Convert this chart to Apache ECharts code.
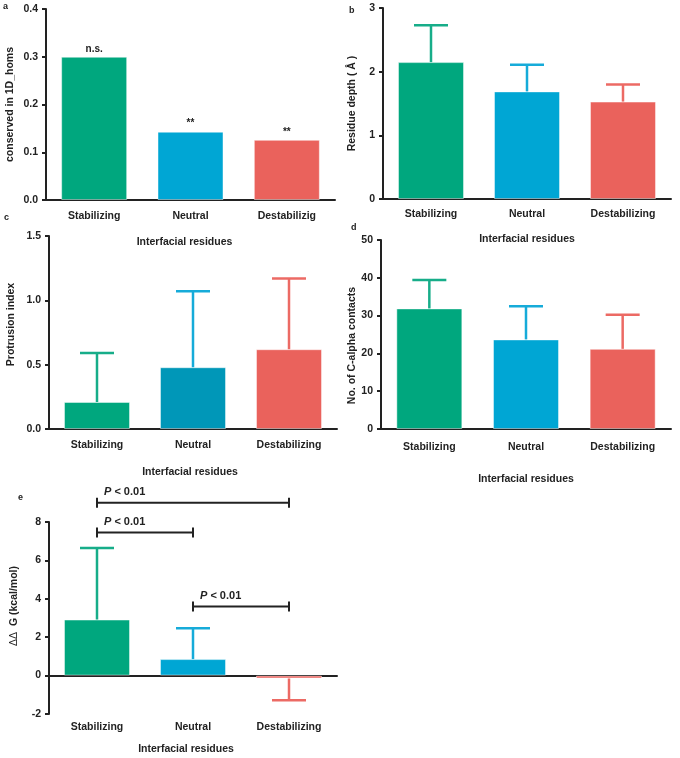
<!DOCTYPE html>
<html><head><meta charset="utf-8">
<script src="https://cdn.jsdelivr.net/npm/echarts@6/dist/echarts.min.js"></script>
<style>html,body{margin:0;padding:0;background:#fff}#c{width:680px;height:758px}</style>
</head><body><div id="c"></div>
<script>
// ---- data ----
const catsA = ['Stabilizing', 'Neutral', 'Destabilizig'];
const cats = ['Stabilizing', 'Neutral', 'Destabilizing'];
const conservedA = [0.300, 0.143, 0.126];
const annotA = ['n.s.', '**', '**'];
const depthB = [2.15, 1.69, 1.53];
const depthSdB = [0.58, 0.42, 0.27];
const protrusionC = [0.21, 0.48, 0.62];
const protrusionSdC = [0.38, 0.59, 0.55];
const contactsD = [31.9, 23.7, 21.2];
const contactsSdD = [7.5, 8.8, 9.0];
const ddgE = [2.92, 0.86, -0.15];
const ddgSdE = [3.72, 1.60, 1.13];
const bracketFrom = [0, 0, 1];
const bracketTo = [2, 1, 2];
const bracketY = [9.0, 7.45, 3.6];
const bracketText = ['P < 0.01', 'P < 0.01', 'P < 0.01'];

// ---- style ----
const FONT = '"Liberation Sans", Arial, sans-serif';
const INK = '#222';
const GREEN = '#00a77e', BLUE = '#00a6d4', RED = '#ea625c', DBLUE = '#0097b8';
const barColors = [GREEN, BLUE, RED];
const barColorsC = [GREEN, DBLUE, RED];
const errColors = ['#17ad89', '#16abd9', '#ec6a64'];

const chart = echarts.init(document.getElementById('c'));

function nameStyle(padding, rich) {
  const s = { color: INK, fontWeight: 'bold', fontSize: 10.5, fontFamily: FONT };
  if (padding) s.padding = padding;
  if (rich) s.rich = rich;
  return s;
}
function xAx(gi, data, margin, nameGap, padding) {
  return {
    type: 'category', gridIndex: gi, data: data,
    axisLine: { lineStyle: { color: INK, width: 2 } },
    axisTick: { alignWithLabel: true, length: 5, lineStyle: { color: INK, width: 2 } },
    axisLabel: { margin: margin, color: INK, fontWeight: 'bold', fontSize: 10.5, fontFamily: FONT },
    name: 'Interfacial residues', nameLocation: 'middle', nameGap: nameGap,
    nameTextStyle: nameStyle(padding),
    splitLine: { show: false }
  };
}
function yAx(gi, min, max, interval, dec, name, nameGap, padding, rich) {
  return {
    type: 'value', gridIndex: gi, min: min, max: max, interval: interval,
    axisLine: { show: true, lineStyle: { color: INK, width: 2 } },
    axisTick: { show: true, length: 4, lineStyle: { color: INK, width: 2 } },
    axisLabel: { margin: 8, color: INK, fontWeight: 'bold', fontSize: 10.5, fontFamily: FONT,
      formatter: v => v.toFixed(dec) },
    splitLine: { show: false },
    name: name, nameLocation: 'middle', nameGap: nameGap,
    nameTextStyle: nameStyle(padding, rich)
  };
}
function barSeries(gi, vals, colors, label) {
  return {
    type: 'bar', xAxisIndex: gi, yAxisIndex: gi, barWidth: 66, z: 2,
    data: vals.map((v, i) => ({ value: v, itemStyle: { color: colors[i], borderColor: 'rgba(255,255,255,0.45)', borderWidth: 1 } })),
    label: label || { show: false }
  };
}
function errSeries(gi, vals, sds, colors) {
  return {
    type: 'custom', xAxisIndex: gi, yAxisIndex: gi, z: 3, clip: false,
    data: vals.map((v, i) => ({ value: [i, v, v + (v < 0 ? -sds[i] : sds[i])], itemStyle: { color: colors[i] } })),
    renderItem: function (params, api) {
      const p0 = api.coord([api.value(0), api.value(1)]);
      const p1 = api.coord([api.value(0), api.value(2)]);
      const c = api.visual('color');
      const half = 17;
      return { type: 'group', children: [
        { type: 'line', shape: { x1: p0[0], y1: p0[1], x2: p1[0], y2: p1[1] }, style: { stroke: c, lineWidth: 2.5 } },
        { type: 'line', shape: { x1: p1[0] - half, y1: p1[1], x2: p1[0] + half, y2: p1[1] }, style: { stroke: c, lineWidth: 2.5 } }
      ] };
    }
  };
}
const bracketSeries = {
  type: 'custom', xAxisIndex: 4, yAxisIndex: 4, z: 4, clip: false,
  data: bracketY.map((y, i) => [bracketFrom[i], bracketTo[i], y, i]),
  renderItem: function (params, api) {
    const a = api.coord([api.value(0), api.value(2)]);
    const b = api.coord([api.value(1), api.value(2)]);
    const h = 5;
    const st = { stroke: INK, lineWidth: 2 };
    return { type: 'group', children: [
      { type: 'line', shape: { x1: a[0], y1: a[1], x2: b[0], y2: b[1] }, style: st },
      { type: 'line', shape: { x1: a[0], y1: a[1] - h, x2: a[0], y2: a[1] + h }, style: st },
      { type: 'line', shape: { x1: b[0], y1: b[1] - h, x2: b[0], y2: b[1] + h }, style: st },
      { type: 'text', x: a[0] + 7, y: a[1] - 11, style: {
          text: '{i|P}' + bracketText[api.value(3)].slice(1), verticalAlign: 'middle', align: 'left',
          fill: INK, font: 'bold 11px ' + FONT,
          rich: { i: { fontStyle: 'italic', fontWeight: 'bold', fontSize: 11, fontFamily: FONT, fill: INK } } } }
    ] };
  }
};

const panelLetter = (t, x, y) => ({ type: 'text', left: x, top: y, style: { text: t, fill: INK, font: 'bold 9px ' + FONT } });
const G = { outerBoundsMode: 'none', containLabel: false };

chart.setOption({
  animation: false,
  backgroundColor: '#fff',
  grid: [
    Object.assign({ left: 46, top: 9, width: 289, height: 191 }, G),
    Object.assign({ left: 383, top: 8, width: 288, height: 191 }, G),
    Object.assign({ left: 49, top: 236, width: 288, height: 193 }, G),
    Object.assign({ left: 381, top: 240, width: 290, height: 189 }, G),
    Object.assign({ left: 49, top: 522, width: 288, height: 192 }, G)
  ],
  xAxis: [
    xAx(0, catsA, 11, 37, [0, 12, 0, 0]),
    xAx(1, cats, 10, 35),
    xAx(2, cats, 11, 38, [0, 6, 0, 0]),
    xAx(3, cats, 13, 45),
    xAx(4, cats, 8, 30, [0, 14, 0, 0])
  ],
  yAxis: [
    yAx(0, 0, 0.4, 0.1, 1, 'conserved in 1D_homs', 30),
    yAx(1, 0, 3, 1, 0, 'Residue depth ( Å )', 25),
    yAx(2, 0, 1.5, 0.5, 1, 'Protrusion index', 32, [0, 0, 0, 16]),
    yAx(3, 0, 50, 10, 0, 'No. of C-alpha contacts', 22, [0, 22, 0, 0]),
    yAx(4, -2, 8, 2, 0, '{n|ΔΔ}  G (kcal/mol)', 29, [0, 0, 0, 24],
      { n: { fontWeight: 'normal', fontSize: 10.5, fontFamily: FONT, color: INK } })
  ],
  series: [
    barSeries(0, conservedA, barColors, {
      show: true, position: 'top', distance: 3, color: INK, fontWeight: 'bold', fontSize: 10, fontFamily: FONT,
      formatter: p => annotA[p.dataIndex] }),
    barSeries(1, depthB, barColors),
    errSeries(1, depthB, depthSdB, errColors),
    barSeries(2, protrusionC, barColorsC),
    errSeries(2, protrusionC, protrusionSdC, errColors),
    barSeries(3, contactsD, barColors),
    errSeries(3, contactsD, contactsSdD, errColors),
    barSeries(4, ddgE, barColors),
    errSeries(4, ddgE, ddgSdE, errColors),
    bracketSeries
  ],
  graphic: [
    panelLetter('a', 3, 2),
    panelLetter('b', 349, 6),
    panelLetter('c', 4, 213),
    panelLetter('d', 351, 223),
    panelLetter('e', 18, 493)
  ]
});
</script></body></html>
